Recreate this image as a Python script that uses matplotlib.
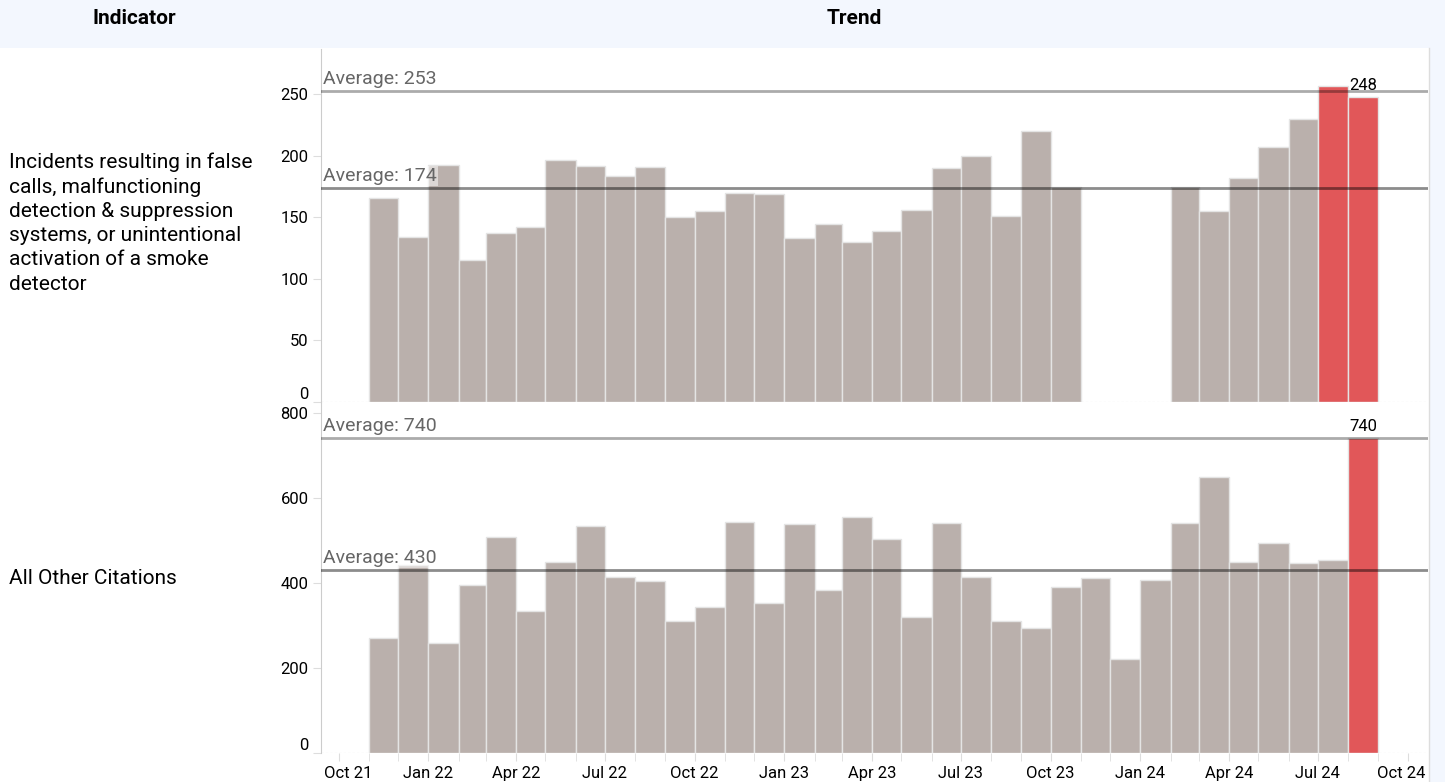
import datetime as dt

import matplotlib.pyplot as plt
import matplotlib.dates as mdates
from matplotlib.lines import Line2D
from matplotlib.patches import Rectangle

plt.rcParams['font.family'] = ['Roboto', 'DejaVu Sans']

# months Nov 2021 .. Aug 2024
months = ['2021-11', '2021-12',
          '2022-01', '2022-02', '2022-03', '2022-04', '2022-05', '2022-06',
          '2022-07', '2022-08', '2022-09', '2022-10', '2022-11', '2022-12',
          '2023-01', '2023-02', '2023-03', '2023-04', '2023-05', '2023-06',
          '2023-07', '2023-08', '2023-09', '2023-10', '2023-11', '2023-12',
          '2024-01', '2024-02', '2024-03', '2024-04', '2024-05', '2024-06',
          '2024-07', '2024-08']

false_calls = [166, 134,
               193, 115, 137, 142, 197, 192, 184, 191, 150, 155, 170, 169,
               133, 145, 130, 139, 156, 190, 200, 151, 220, 175, None, None,
               None, 175, 155, 182, 207, 230, 257, 248]

other_citations = [270, 442,
                   260, 396, 507, 334, 449, 534, 414, 405, 310, 344, 543, 352,
                   538, 384, 554, 504, 320, 540, 415, 310, 295, 390, 411, 221,
                   406, 540, 648, 449, 495, 446, 454, 740]

indicators = ['Incidents resulting in false\ncalls, malfunctioning\ndetection & suppression\n'
              'systems, or unintentional\nactivation of a smoke\ndetector',
              'All Other Citations']
highlight = [['2024-07', '2024-08'], ['2024-08']]
avg_recent = [253, 740]
avg_all = [174, 430]
last_label = ['248', '740']
y_ticks = [[0, 50, 100, 150, 200, 250], [0, 200, 400, 600, 800]]
y_max = [287, 825]

W, H = 1445, 782
fig = plt.figure(figsize=(W / 100, H / 100), dpi=100)
fig.patch.set_facecolor('#f3f7fe')
fig.add_artist(Rectangle((0, 0), 1429 / W, 1 - 48 / H, transform=fig.transFigure,
                         facecolor='white', edgecolor='none', zorder=0))
fig.add_artist(Line2D([1429 / W, 1429 / W], [0, 1 - 48 / H], transform=fig.transFigure,
                      color='#dddddd', lw=1))

fig.text(134 / W, 1 - 19 / H, 'Indicator', ha='center', va='center',
         fontsize=15, fontweight='bold')
fig.text(854 / W, 1 - 19 / H, 'Trend', ha='center', va='center',
         fontsize=15, fontweight='bold')

starts = [dt.date(int(m[:4]), int(m[5:]), 1) for m in months]
ends = [dt.date(d.year + d.month // 12, d.month % 12 + 1, 1) for d in starts]

# axes boxes in pixels: (top, bottom)
boxes = [(49, 401.7), (402, 753.4)]
series = [false_calls, other_citations]
text_y = [223, 578]

for i, (top, bot) in enumerate(boxes):
    ax = fig.add_axes([321 / W, 1 - bot / H, (1428 - 321) / W, (bot - top) / H])
    ax.set_facecolor('none')
    vals = series[i]
    for m, s, e, v in zip(months, starts, ends, vals):
        if v is None:
            continue
        c = '#e15759' if m in highlight[i] else '#bab0ac'
        ax.bar(mdates.date2num(s), v, width=(e - s).days, align='edge',
               color=c, edgecolor='#e4e4e4', linewidth=1, zorder=2)

    x0, x1 = dt.date(2021, 9, 13), dt.date(2024, 10, 22)
    ax.set_xlim(mdates.date2num(x0), mdates.date2num(x1))
    ax.set_ylim(0, y_max[i])

    # average lines
    ax.axhline(avg_recent[i], color='black', alpha=0.33, lw=2, zorder=3)
    ax.axhline(avg_all[i], color='black', alpha=0.45, lw=2, zorder=3)
    for a in (avg_recent[i], avg_all[i]):
        ax.annotate(f'Average: {a}', xy=(0, a), xycoords=('axes fraction', 'data'),
                    xytext=(1.5, 2), textcoords='offset points', ha='left', va='bottom',
                    fontsize=14, color='#666666', zorder=4,
                    bbox=dict(boxstyle='square,pad=0.05', fc='white', ec='none', alpha=0.5))

    # label on the latest month
    s, e = starts[-1], ends[-1]
    mid = mdates.date2num(s) + (e - s).days / 2
    ax.annotate(last_label[i], xy=(mid, vals[-1]), xytext=(0, 3), textcoords='offset points',
                ha='center', va='bottom', fontsize=12, color='black', zorder=5)

    ax.axhline(0, color='#cccccc', lw=0.8, ls=(0, (2, 2)), zorder=1)

    for side in ('top', 'right', 'bottom'):
        ax.spines[side].set_visible(False)
    ax.spines['left'].set_color('#cccccc')
    ax.set_yticks(y_ticks[i])
    ax.tick_params(axis='y', length=6, color='#dddddd', labelsize=12, pad=3)
    ax.yaxis.get_major_ticks()[0].label1.set_verticalalignment('bottom')

    if i == 1:
        quarters = [dt.date(y, m, 1) for y in range(2021, 2025) for m in (1, 4, 7, 10)
                    if x0 <= dt.date(y, m, 1) <= x1]
        qlabels = [d.strftime('%b %y') for d in quarters]
        ax.set_xticks([mdates.date2num(d) for d in quarters])
        # first/last labels are kept inside the axis, like the original
        ax.set_xticklabels([''] + qlabels[1:-1] + [''])
        ax.xaxis.set_minor_locator(mdates.MonthLocator())
        ax.tick_params(axis='x', which='both', length=6, color='#dddddd',
                       labelsize=12, pad=3)
        ax.annotate(qlabels[0], xy=(0, 0), xycoords='axes fraction', xytext=(2, -9),
                    textcoords='offset points', ha='left', va='top', fontsize=12)
        ax.annotate(qlabels[-1], xy=(1, 0), xycoords='axes fraction', xytext=(-2, -9),
                    textcoords='offset points', ha='right', va='top', fontsize=12)
    else:
        ax.set_xticks([])

    fig.text(9 / W, 1 - text_y[i] / H, indicators[i], ha='left', va='center',
             fontsize=15, linespacing=1.35)

fig.savefig('out.png', dpi=100, facecolor=fig.get_facecolor())
